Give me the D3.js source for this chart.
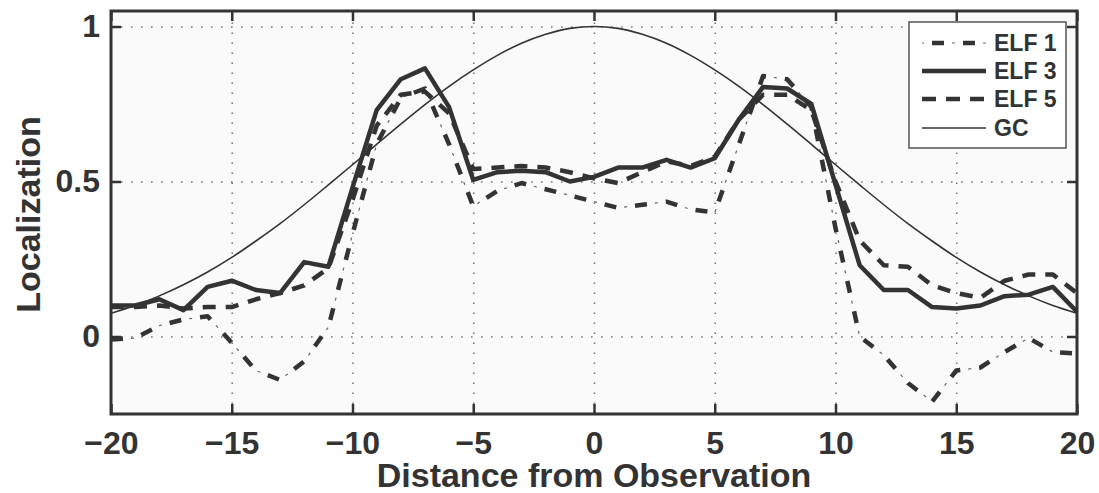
<!DOCTYPE html>
<meta charset="utf-8">
<style>
  body { margin: 0; background: #fff; }
  text { font-family: "Liberation Sans", Arial, Helvetica, sans-serif; font-weight: bold; fill: #333; }
  .axis text { font-size: 32px; }
  .axis line { stroke: #333; stroke-width: 2.5px; }
  .axis path { display: none; }
  .grid line { stroke: #777; stroke-width: 1.6px; stroke-dasharray: 1.6,8.4; }
  .grid path, .grid text { display: none; }
  .series { fill: none; stroke: #333; stroke-linejoin: round; }
</style>
<body>
<script src="https://d3js.org/d3.v7.min.js"></script>
<script>

var xs = d3.range(-20, 21);

var elf1 = [-0.01, -0.005, 0.035, 0.055, 0.065, -0.02, -0.11, -0.14, -0.08, 0.03,
            0.33, 0.62, 0.77, 0.80, 0.62, 0.42, 0.47, 0.495, 0.475, 0.455,
            0.435, 0.415, 0.425, 0.435, 0.41, 0.40, 0.62, 0.84, 0.83, 0.74,
            0.35, 0.0, -0.06, -0.15, -0.21, -0.11, -0.10, -0.05, -0.005, -0.05, -0.055];

var elf3 = [0.10, 0.10, 0.12, 0.085, 0.16, 0.18, 0.15, 0.14, 0.24, 0.225,
            0.48, 0.73, 0.83, 0.865, 0.74, 0.505, 0.53, 0.535, 0.53, 0.50,
            0.515, 0.545, 0.545, 0.57, 0.545, 0.575, 0.70, 0.805, 0.80, 0.75,
            0.49, 0.23, 0.15, 0.15, 0.095, 0.09, 0.10, 0.13, 0.135, 0.16, 0.08];

var elf5 = [0.095, 0.095, 0.10, 0.09, 0.095, 0.095, 0.12, 0.14, 0.165, 0.22,
            0.44, 0.68, 0.78, 0.79, 0.72, 0.54, 0.545, 0.55, 0.545, 0.53,
            0.51, 0.495, 0.53, 0.565, 0.55, 0.58, 0.70, 0.78, 0.78, 0.73,
            0.50, 0.31, 0.23, 0.225, 0.165, 0.14, 0.125, 0.18, 0.20, 0.20, 0.14];

// symmetric about 0
var gcHalf = [1.0, 0.994, 0.975, 0.946, 0.907, 0.860, 0.807, 0.748, 0.685, 0.620,
              0.554, 0.489, 0.425, 0.364, 0.308, 0.255, 0.208, 0.167, 0.131, 0.100, 0.075];
var gc = gcHalf.slice(1).reverse().concat(gcHalf);

var xTicks = [-20, -15, -10, -5, 0, 5, 10, 15, 20];
var xTickLabels = ["\u221220", "\u221215", "\u221210", "\u22125", "0", "5", "10", "15", "20"];
var yTicks = [0, 0.5, 1];
var yTickLabels = ["0", "0.5", "1"];

var seriesNames = ["ELF 1", "ELF 3", "ELF 5", "GC"];

var width = 1099, height = 493;
var margin = {left: 111, right: 22, top: 11, bottom: 79};
var w = width - margin.left - margin.right,
    h = height - margin.top - margin.bottom;

var svg = d3.select("body").append("svg")
  .attr("width", width)
  .attr("height", height);

var g = svg.append("g")
  .attr("transform", "translate(" + margin.left + "," + margin.top + ")");

var x = d3.scaleLinear().domain([-20, 20]).range([0, w]);
var y = d3.scaleLinear().domain([-0.25, 1.05]).range([h, 0]);

g.append("rect")
  .attr("width", w)
  .attr("height", h)
  .attr("fill", "#fafafa");

// dotted grid
g.append("g").attr("class", "grid")
  .attr("transform", "translate(0," + h + ")")
  .call(d3.axisBottom(x).tickValues(xTicks.slice(1, -1)).tickSize(-h));
g.append("g").attr("class", "grid")
  .call(d3.axisLeft(y).tickValues(yTicks).tickSize(-w));

var line = d3.line()
  .x(function(d, i) { return x(xs[i]); })
  .y(function(d) { return y(d); });

var clip = g.append("clipPath").attr("id", "clip")
  .append("rect").attr("width", w).attr("height", h);

var lines = g.append("g").attr("clip-path", "url(#clip)");

// ELF 1: thick dashes with a thin dot in each gap
lines.append("path").datum(elf1)
  .attr("class", "series")
  .attr("d", line)
  .style("stroke-width", 4.5)
  .style("stroke-dasharray", "12,19");
lines.append("path").datum(elf1)
  .attr("class", "series")
  .attr("d", line)
  .style("stroke", "#666")
  .style("stroke-width", 1.2)
  .style("stroke-dasharray", "0,20,3,8");

lines.append("path").datum(elf3)
  .attr("class", "series")
  .attr("d", line)
  .style("stroke-width", 4.5);

lines.append("path").datum(elf5)
  .attr("class", "series")
  .attr("d", line)
  .style("stroke-width", 4.5)
  .style("stroke-dasharray", "13,10");

lines.append("path").datum(gc)
  .attr("class", "series")
  .attr("d", d3.line().curve(d3.curveMonotoneX)
    .x(function(d, i) { return x(xs[i]); })
    .y(function(d) { return y(d); }))
  .style("stroke-width", 1.6);

// axes with inward ticks on all sides
g.append("g").attr("class", "axis")
  .attr("transform", "translate(0," + h + ")")
  .call(d3.axisBottom(x).tickValues(xTicks).tickSize(-10).tickPadding(17)
    .tickFormat(function(d, i) { return xTickLabels[i]; }));
g.append("g").attr("class", "axis")
  .call(d3.axisTop(x).tickValues(xTicks).tickSize(-10).tickFormat(""));
g.append("g").attr("class", "axis")
  .call(d3.axisLeft(y).tickValues(yTicks).tickSize(-10).tickPadding(11)
    .tickFormat(function(d, i) { return yTickLabels[i]; }));
g.append("g").attr("class", "axis")
  .attr("transform", "translate(" + w + ",0)")
  .call(d3.axisRight(y).tickValues(yTicks).tickSize(-10).tickFormat(""));

g.append("rect")
  .attr("width", w)
  .attr("height", h)
  .attr("fill", "none")
  .attr("stroke", "#333")
  .attr("stroke-width", 3);

// axis titles
svg.append("text")
  .attr("x", margin.left + w / 2)
  .attr("y", 487)
  .attr("text-anchor", "middle")
  .style("font-size", "34px")
  .text("Distance from Observation");

svg.append("text")
  .attr("transform", "translate(40," + (margin.top + h / 2 + 2) + ")rotate(-90)")
  .attr("text-anchor", "middle")
  .style("font-size", "34px")
  .text("Localization");

// legend
var lg = svg.append("g").attr("transform", "translate(909,22)");
lg.append("rect")
  .attr("width", 157)
  .attr("height", 126)
  .attr("fill", "#fff")
  .attr("stroke", "#555")
  .attr("stroke-width", 1.5);

var legendY = [21, 49, 77, 106];
var legendStyle = [
  {w: 4.5, dash: "12,19"},
  {w: 4.5, dash: null},
  {w: 4.5, dash: "14,10"},
  {w: 1.6, dash: null}
];

seriesNames.forEach(function(name, i) {
  var ly = legendY[i];
  var s = legendStyle[i];
  lg.append("line")
    .attr("x1", 13).attr("x2", 77)
    .attr("y1", ly).attr("y2", ly)
    .style("stroke", "#333")
    .style("stroke-width", s.w)
    .style("stroke-dasharray", s.dash)
    .style("stroke-dashoffset", i === 0 ? -10 : 0);
  if (i === 0) {
    lg.append("line")
      .attr("x1", 13).attr("x2", 77)
      .attr("y1", ly).attr("y2", ly)
      .style("stroke", "#666")
      .style("stroke-width", 1.2)
      .style("stroke-dasharray", "0,20,3,8")
      .style("stroke-dashoffset", -10);
  }
  lg.append("text")
    .attr("x", 85)
    .attr("y", ly)
    .attr("dy", "0.36em")
    .style("font-size", "23px")
    .text(name);
});

</script>
</body>
</html>
